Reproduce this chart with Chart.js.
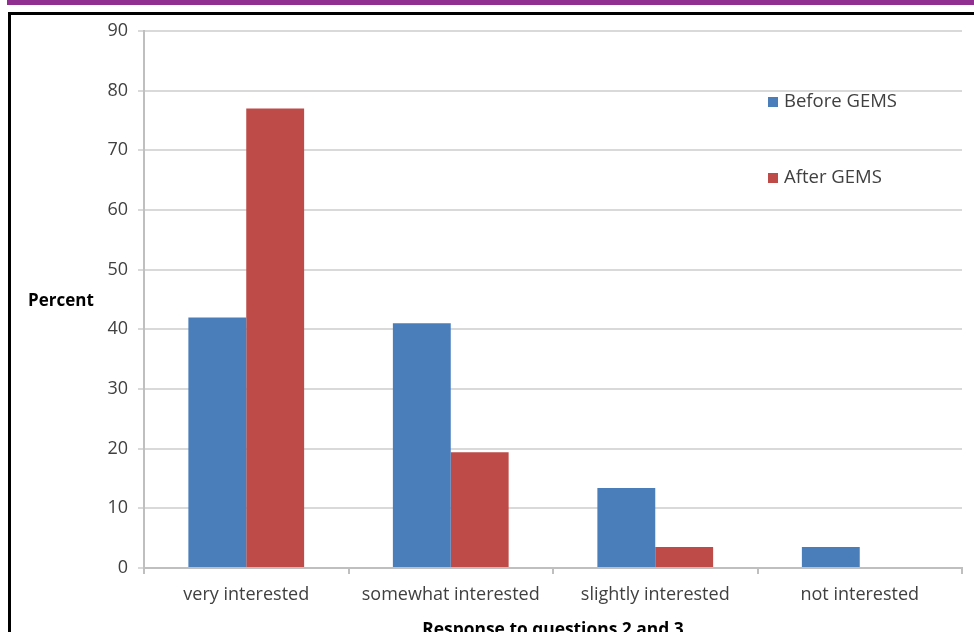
<!DOCTYPE html>
<html><head><meta charset="utf-8">
<script src="https://cdn.jsdelivr.net/npm/chart.js@4/dist/chart.umd.min.js"></script>
<style>
html,body{margin:0;padding:0;background:#fff;overflow:hidden;}
#wrap{position:absolute;left:0;top:0;width:974px;height:632px;}
#purple{position:absolute;left:7px;top:0;width:967px;height:5px;background:#902F90;}
#frame{position:absolute;left:8px;top:12px;width:1000px;height:700px;border:3px solid #000;box-sizing:border-box;}
canvas{position:absolute;left:0;top:0;}
</style></head>
<body>
<div id="wrap">
<div id="purple"></div>
<div id="frame"></div>
<canvas id="c" width="974" height="632"></canvas>
</div>
<script>
const categories = ["very interested","somewhat interested","slightly interested","not interested"];
const beforeGEMS = [42, 41, 13.4, 3.5];
const afterGEMS = [77, 19.4, 3.5, 0];
const seriesNames = ["Before GEMS","After GEMS"];
const yTicks = [0,10,20,30,40,50,60,70,80,90];
const yTitle = "Percent";
const xTitle = "Response to questions 2 and 3";

const FONT = "'Open Sans', Lato, sans-serif";

const extras = {
  id:'extras',
  afterDraw(chart){
    const ctx = chart.ctx;
    ctx.save();
    ctx.font = "bold 17px " + FONT;
    ctx.fillStyle = "#000";
    ctx.textBaseline = "middle";
    ctx.textAlign = "left";
    ctx.fillText(yTitle, 28, 301);
    const ys = [102, 178];
    ctx.font = "18.5px " + FONT;
    chart.data.datasets.forEach((ds,i)=>{
      ctx.fillStyle = ds.backgroundColor;
      ctx.fillRect(768, ys[i]-5, 10, 10);
      ctx.fillStyle = "#404040";
      ctx.fillText(ds.label, 784, ys[i]);
    });
    ctx.restore();
  }
};

new Chart(document.getElementById('c'), {
  type:'bar',
  data:{
    labels: categories,
    datasets:[
      {label: seriesNames[0], data: beforeGEMS, backgroundColor:'#4A7EBB', borderWidth:0},
      {label: seriesNames[1], data: afterGEMS, backgroundColor:'#BE4B48', borderWidth:0}
    ]
  },
  options:{
    responsive:false,
    animation:false,
    layout:{padding:{left:0,right:12,top:31,bottom:0}},
    datasets:{bar:{categoryPercentage:0.566, barPercentage:1}},
    plugins:{legend:{display:false}, tooltip:{enabled:false}},
    scales:{
      x:{
        grid:{display:true, offset:true, drawOnChartArea:false, tickLength:6, color:'#bfbfbf', lineWidth:2},
        border:{display:true, color:'#bfbfbf', width:2},
        ticks:{font:{family:FONT, size:18}, color:'#404040', padding:10, maxRotation:0},
        title:{display:true, text:xTitle, font:{family:FONT, size:17.4, weight:'bold'}, color:'#000', padding:{top:0, bottom:-8}},
        afterFit(s){ s.height = 64; }
      },
      y:{
        min:0, max:90,
        afterBuildTicks(s){ s.ticks = yTicks.map(v=>({value:v})); },
        grid:{color:'#d9d9d9', lineWidth:2, tickLength:6},
        border:{display:true, color:'#bfbfbf', width:2},
        ticks:{font:{family:FONT, size:18}, color:'#404040', padding:10},
        afterFit(s){ s.width = 144; }
      }
    }
  },
  plugins:[extras]
});
</script>
</body></html>
